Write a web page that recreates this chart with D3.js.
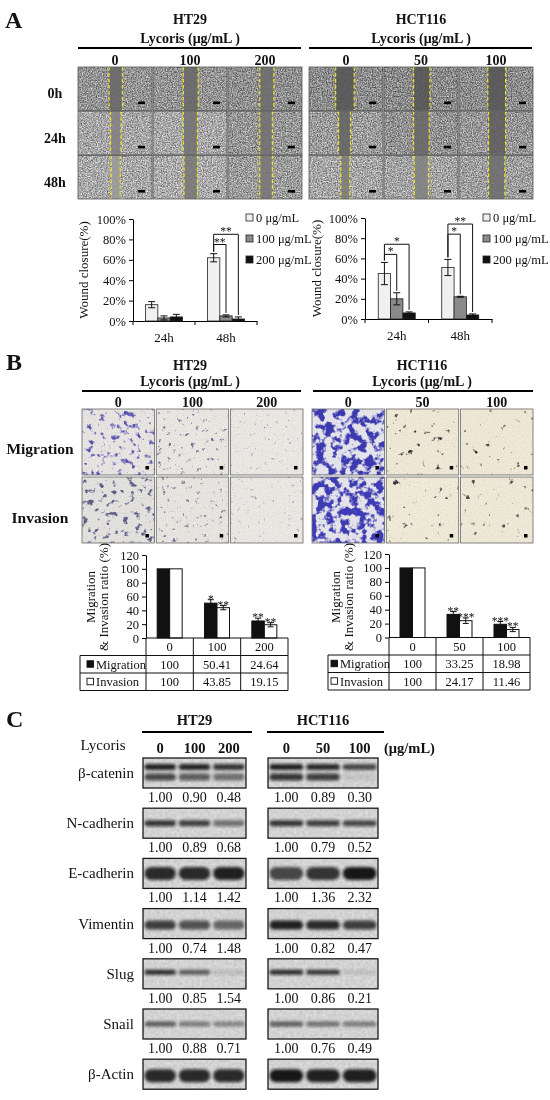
<!DOCTYPE html>
<html>
<head>
<meta charset="utf-8">
<script src="https://cdn.jsdelivr.net/npm/d3@7/dist/d3.min.js"></script>
<style>
  body { margin: 0; background: #fff; }
  svg { will-change: transform; }
  svg text { font-family: "Liberation Serif", "Times New Roman", serif; fill: #111; }
</style>
</head>
<body>
<svg id="fig" width="550" height="1100"></svg>
<script>
// ---------- values ----------
const times = ["0h", "24h", "48h"];
const ht29_doses = ["0", "100", "200"];
const hct116_doses = ["0", "50", "100"];

const wound_groups = ["24h", "48h"];
const wound_legend = ["0 μg/mL", "100 μg/mL", "200 μg/mL"];
const wound_ticks = [0, 20, 40, 60, 80, 100];
// wound closure (%), rows = 24h / 48h, cols = dose
const ht29_wound = [[16, 3, 4], [62, 5, 2]];
const ht29_wound_err = [[3, 2, 2.5], [4, 1, 2]];
const hct116_wound = [[45, 20, 6], [51, 22, 4]];
const hct116_wound_err = [[11, 6, 1], [8, 0.5, 1]];
// brackets: [group, dose vs control, bracket height %, label]
const ht29_sig = [[1, 1, 75, "**"], [1, 2, 85, "**"]];
const hct116_sig = [[0, 1, 64, "*"], [0, 2, 74, "*"], [1, 1, 84, "*"], [1, 2, 94, "**"]];

// scratch edges (fraction of picture width), rows = time, cols = dose
const ht29_gap = [[[0.42, 0.6], [0.41, 0.61], [0.43, 0.62]],
                  [[0.44, 0.58], [0.41, 0.6], [0.43, 0.6]],
                  [[0.45, 0.57], [0.42, 0.6], [0.43, 0.6]]];
const hct116_gap = [[[0.36, 0.61], [0.4, 0.62], [0.39, 0.63]],
                    [[0.4, 0.56], [0.4, 0.61], [0.4, 0.63]],
                    [[0.43, 0.55], [0.41, 0.6], [0.4, 0.62]]];

const mi_rows = ["Migration", "Invasion"];
const mi_ticks = [0, 20, 40, 60, 80, 100, 120];
const ht29_migration = [100, 50.41, 24.64];
const ht29_invasion = [100, 43.85, 19.15];
const ht29_mig_err = [0, 5, 4];
const ht29_inv_err = [0, 3, 3];
const hct116_migration = [100, 33.25, 18.98];
const hct116_invasion = [100, 24.17, 11.46];
const hct116_mig_err = [0, 4, 4];
const hct116_inv_err = [0, 4, 3];
const ht29_mig_sig = ["", "*", "**"];
const ht29_inv_sig = ["", "**", "**"];
const hct116_mig_sig = ["", "**", "***"];
const hct116_inv_sig = ["", "***", "**"];

// stained-cell coverage in transwell pictures, rows = migration / invasion
const ht29_cells = [[0.34, 0.17, 0.08], [0.32, 0.16, 0.06]];
const hct116_cells = [[0.62, 0.025, 0.02], [0.64, 0.03, 0.018]];

const proteins = ["β-catenin", "N-cadherin", "E-cadherin", "Vimentin", "Slug", "Snail", "β-Actin"];
const ht29_ratio = [[1.00, 0.90, 0.48], [1.00, 0.89, 0.68], [1.00, 1.14, 1.42],
                    [1.00, 0.74, 1.48], [1.00, 0.85, 1.54], [1.00, 0.88, 0.71]];
const hct116_ratio = [[1.00, 0.89, 0.30], [1.00, 0.79, 0.52], [1.00, 1.36, 2.32],
                      [1.00, 0.82, 0.47], [1.00, 0.86, 0.21], [1.00, 0.76, 0.49]];
// band darkness on the blots (per band, per lane)
const ht29_bands = [[[0.9, 0.88, 0.8], [0.7, 0.6, 0.5]], [[0.8, 0.75, 0.5]], [[0.85, 0.85, 0.9]],
                    [[0.75, 0.65, 0.55]], [[0.85, 0.6, 0.12]], [[0.6, 0.45, 0.4]], [[0.85, 0.85, 0.85]]];
const hct116_bands = [[[0.9, 0.85, 0.7], [0.8, 0.75, 0.08]], [[0.8, 0.75, 0.7]], [[0.7, 0.8, 0.95]],
                      [[0.9, 0.85, 0.75]], [[0.85, 0.8, 0.1]], [[0.6, 0.5, 0.45]], [[0.95, 0.9, 0.9]]];

// ---------- look of the pictures ----------
const ht29_tone = [[0.66, 0.66, 0.62], [0.8, 0.82, 0.68], [0.82, 0.84, 0.72]];
const ht29_gap_tone = [[0.4, 0.4, 0.42], [0.5, 0.44, 0.44], [0.6, 0.46, 0.46]];
const hct116_tone = [[0.6, 0.58, 0.6], [0.72, 0.64, 0.68], [0.8, 0.78, 0.74]];
const hct116_gap_tone = [[0.33, 0.33, 0.33], [0.38, 0.4, 0.36], [0.48, 0.5, 0.42]];
const ht29_cell_col = [["#5c55b0", "#6e688f", "#948ea6"], ["#5e5c86", "#75738f", "#a09cae"]];
const hct116_cell_col = [["#3c3ab0", "#332e38", "#241f1f"], ["#3e3cb4", "#332e38", "#4a4a4a"]];
const ht29_well_bg = [["#eeebe8", "#f1eee9", "#f2efea"], ["#eae8e4", "#efece7", "#f2efea"]];
const hct116_well_bg = [["#ecebf2", "#f6efdb", "#f6efdb"], ["#ecebf2", "#f7f1de", "#f6f0dd"]];
const band_rows = [[[0.3, 6], [0.63, 7]], [[0.5, 6]], [[0.5, 13]], [[0.55, 9]], [[0.45, 5]], [[0.5, 5]], [[0.55, 13]]];

const svg = d3.select("#fig");
const defs = svg.append("defs");
const serif = '"Liberation Serif","Times New Roman",serif';
const gray = v => d3.rgb(v * 255, v * 255, v * 255).toString();
let uid = 0;

function text(g, x, y, s, size, weight, anchor) {
  return g.append("text").attr("x", x).attr("y", y)
    .attr("font-size", size).attr("font-weight", weight || "normal")
    .attr("text-anchor", anchor || "middle").text(s);
}

function newFilter(prefix) {
  const id = prefix + (uid++);
  const f = defs.append("filter").attr("id", id).attr("color-interpolation-filters", "sRGB")
    .attr("x", 0).attr("y", 0).attr("width", 1).attr("height", 1);
  return [id, f];
}

function noiseFilter(freq, seed, contrast, alpha) {
  const [id, f] = newFilter("nz");
  f.append("feTurbulence").attr("type", "fractalNoise").attr("baseFrequency", freq)
    .attr("numOctaves", 3).attr("seed", seed);
  const k = contrast, b = 0.5 - contrast * 0.5;
  f.append("feColorMatrix").attr("type", "matrix")
    .attr("values", `${k} 0 0 0 ${b} ${k} 0 0 0 ${b} ${k} 0 0 0 ${b} 0 0 0 0 ${alpha}`);
  return "url(#" + id + ")";
}

function cellFilter(freq, seed, cover, col, K) {
  const [id, f] = newFilter("cl");
  const c = d3.rgb(col);
  const t = 0.72 - 0.42 * cover;
  f.append("feTurbulence").attr("type", "fractalNoise").attr("baseFrequency", freq)
    .attr("numOctaves", 3).attr("seed", seed);
  f.append("feColorMatrix").attr("type", "matrix")
    .attr("values", `0 0 0 0 ${c.r / 255} 0 0 0 0 ${c.g / 255} 0 0 0 0 ${c.b / 255} ${K} 0 0 0 ${-K * t}`);
  return "url(#" + id + ")";
}

defs.append("filter").attr("id", "blur").attr("x", -0.3).attr("y", -1).attr("width", 1.6).attr("height", 3)
  .append("feGaussianBlur").attr("stdDeviation", 1.4);

function clipRect(x, y, w, h) {
  const id = "cp" + (uid++);
  defs.append("clipPath").attr("id", id).append("rect")
    .attr("x", x).attr("y", y).attr("width", w).attr("height", h);
  return "url(#" + id + ")";
}

function header(title, cx, ty, ly, lineY, x0, x1) {
  text(svg, cx, ty, title, 14, "bold");
  text(svg, cx, ly, "Lycoris (μg/mL )", 14, "bold");
  svg.append("line").attr("x1", x0).attr("x2", x1).attr("y1", lineY).attr("y2", lineY)
    .attr("stroke", "#000").attr("stroke-width", 2.2);
}

// ---------- panel letters ----------
text(svg, 5, 28, "A", 24, "bold", "start");
text(svg, 6, 370, "B", 24, "bold", "start");
text(svg, 6, 727, "C", 24, "bold", "start");

// ---------- A: scratch pictures ----------
function woundTiles(x0, x1, doses, gaps, tone, gapTone, seed0) {
  const xs = d3.scaleBand().domain(doses).range([x0, x1]).paddingInner(0.012);
  const ys = d3.scaleBand().domain(times).range([67, 199]).paddingInner(0.015);
  doses.forEach((d, c) => text(svg, xs(d) + xs.bandwidth() / 2, 65, d, 14, "bold"));
  times.forEach((t, r) => doses.forEach((d, c) => {
    const x = xs(d), y = ys(t), w = xs.bandwidth(), h = ys.bandwidth();
    const g = svg.append("g").attr("clip-path", clipRect(x, y, w, h));
    const gl = x + gaps[r][c][0] * w, gr = x + gaps[r][c][1] * w;
    g.append("rect").attr("x", x).attr("y", y).attr("width", w).attr("height", h).attr("fill", gray(tone[r][c]));
    g.append("rect").attr("x", x).attr("y", y).attr("width", w).attr("height", h)
      .attr("filter", noiseFilter(0.8, seed0 + r * 3 + c, 1.7, 0.5));
    g.append("rect").attr("x", gl).attr("y", y).attr("width", gr - gl).attr("height", h)
      .attr("fill", gray(gapTone[r][c])).attr("opacity", 0.85);
    [gl, gr].forEach(xx => g.append("line").attr("x1", xx).attr("x2", xx).attr("y1", y).attr("y2", y + h)
      .attr("stroke", "#f0e41c").attr("stroke-width", 1.2).attr("stroke-dasharray", "3.5,2.5"));
    g.append("rect").attr("x", x + w - 14).attr("y", y + h - 9).attr("width", 7).attr("height", 2.6).attr("fill", "#000");
    svg.append("rect").attr("x", x).attr("y", y).attr("width", w).attr("height", h)
      .attr("fill", "none").attr("stroke", "#555").attr("stroke-width", 0.8);
  }));
}

header("HT29", 190, 24, 43, 48, 78, 301);
header("HCT116", 421, 24, 43, 48, 309, 532);
woundTiles(78, 302, ht29_doses, ht29_gap, ht29_tone, ht29_gap_tone, 10);
woundTiles(309, 533, hct116_doses, hct116_gap, hct116_tone, hct116_gap_tone, 40);
times.forEach((t, i) => text(svg, 55, 98 + i * 44.5, t, 14, "bold"));

// ---------- A: wound closure charts ----------
function styleAxis(g, size) {
  g.attr("font-family", serif).attr("font-size", size);
  g.selectAll("path,line").attr("stroke", "#000");
  g.selectAll("text").attr("fill", "#111");
}

function woundChart(o) {
  const y = d3.scaleLinear().domain([0, 100]).range([o.y0, o.y1]);
  const x = d3.scaleBand().domain(wound_groups).range([o.x0, o.x1]);
  const xi = d3.scaleBand().domain([0, 1, 2]).range([-18.5, 18.5]);
  const fills = ["#f0f0f0", "#8a8a8a", "#111"];
  const g = svg.append("g");

  g.append("g").attr("transform", `translate(${o.x0},0)`)
    .call(d3.axisLeft(y).tickValues(wound_ticks).tickFormat(d => d + "%").tickSize(4).tickSizeOuter(0).tickPadding(3))
    .call(styleAxis, 12.5);
  g.append("g").attr("transform", `translate(0,${o.y0})`)
    .call(d3.axisBottom(x).tickSize(0).tickPadding(12)).call(styleAxis, 13);
  g.append("g").selectAll("line").data([o.x0, x(wound_groups[1]), o.x1]).join("line")
    .attr("x1", d => d).attr("x2", d => d).attr("y1", o.y0).attr("y2", o.y0 + 4).attr("stroke", "#000");

  const bars = [];
  o.vals.forEach((row, gi) => row.forEach((v, di) => bars.push({
    gi, di, v, e: o.errs[gi][di], cx: x(wound_groups[gi]) + x.bandwidth() / 2 + xi(di) + xi.bandwidth() / 2
  })));
  g.append("g").selectAll("rect").data(bars).join("rect")
    .attr("x", d => d.cx - xi.bandwidth() / 2).attr("width", xi.bandwidth())
    .attr("y", d => y(d.v)).attr("height", d => o.y0 - y(d.v))
    .attr("fill", d => fills[d.di]).attr("stroke", "#222").attr("stroke-width", 0.8);
  const eb = g.append("g").attr("stroke", "#111").attr("stroke-width", 1);
  bars.forEach(d => {
    eb.append("line").attr("x1", d.cx).attr("x2", d.cx).attr("y1", y(d.v - d.e)).attr("y2", y(d.v + d.e));
    [d.v - d.e, d.v + d.e].forEach(vv => eb.append("line").attr("x1", d.cx - 3.5).attr("x2", d.cx + 3.5)
      .attr("y1", y(vv)).attr("y2", y(vv)));
  });

  const bk = g.append("g");
  o.sig.forEach(([gi, di, hgt, lab]) => {
    const a = bars.find(b => b.gi === gi && b.di === 0), b = bars.find(b => b.gi === gi && b.di === di);
    bk.append("path").attr("fill", "none").attr("stroke", "#111").attr("stroke-width", 1)
      .attr("d", `M${a.cx},${y(a.v + a.e) - 2}V${y(hgt)}H${b.cx}V${y(b.v + b.e) - 2}`);
    text(bk, (a.cx + b.cx) / 2, y(hgt) + 1, lab, 11.5, "normal");
  });

  const lg = g.append("g");
  wound_legend.forEach((s, i) => {
    const yy = o.ly + i * 21;
    lg.append("rect").attr("x", o.lx).attr("y", yy - 4).attr("width", 7).attr("height", 7)
      .attr("fill", fills[i]).attr("stroke", "#222").attr("stroke-width", 0.8);
    text(lg, o.lx + 10, yy + 4, s, 12.5, "normal", "start");
  });

  g.append("text").attr("transform", `translate(${o.tx},${(o.y0 + o.y1) / 2}) rotate(-90)`)
    .attr("text-anchor", "middle").attr("font-size", 13).text("Wound closure(%)");
}

woundChart({ x0: 133, x1: 257, y0: 321, y1: 219, vals: ht29_wound, errs: ht29_wound_err, sig: ht29_sig,
             lx: 246, ly: 218, tx: 88 });
woundChart({ x0: 365, x1: 492, y0: 319, y1: 218, vals: hct116_wound, errs: hct116_wound_err, sig: hct116_sig,
             lx: 483, ly: 218, tx: 321 });

// ---------- B: transwell pictures ----------
function wellTiles(x0, x1, doses, cover, cols, bgs, seed0, freq, sharp) {
  const xs = d3.scaleBand().domain(doses).range([x0, x1]).paddingInner(0.025);
  const ys = d3.scaleBand().domain(mi_rows).range([409, 543]).paddingInner(0.03);
  doses.forEach(d => text(svg, xs(d) + xs.bandwidth() / 2, 407, d, 14, "bold"));
  mi_rows.forEach((m, r) => doses.forEach((d, c) => {
    const x = xs(d), y = ys(m), w = xs.bandwidth(), h = ys.bandwidth();
    const g = svg.append("g").attr("clip-path", clipRect(x, y, w, h));
    g.append("rect").attr("x", x).attr("y", y).attr("width", w).attr("height", h).attr("fill", bgs[r][c]);
    g.append("rect").attr("x", x).attr("y", y).attr("width", w).attr("height", h)
      .attr("filter", noiseFilter(0.8, seed0 + r * 3 + c, 1.4, 0.08));
    g.append("rect").attr("x", x).attr("y", y).attr("width", w).attr("height", h)
      .attr("filter", cellFilter(freq[c], seed0 + 7 + r * 3 + c, cover[r][c], cols[r][c], sharp[c]));
    g.append("rect").attr("x", x + w - 9).attr("y", y + h - 9).attr("width", 3.5).attr("height", 3.5).attr("fill", "#000");
    svg.append("rect").attr("x", x).attr("y", y).attr("width", w).attr("height", h)
      .attr("fill", "none").attr("stroke", "#666").attr("stroke-width", 0.8);
  }));
}

header("HT29", 190, 370, 386, 391, 82, 301);
header("HCT116", 422, 370, 386, 391, 313, 533);
wellTiles(82, 303, ht29_doses, ht29_cells, ht29_cell_col, ht29_well_bg, 70, [0.17, 0.21, 0.24], [6, 6, 6]);
wellTiles(312, 533, hct116_doses, hct116_cells, hct116_cell_col, hct116_well_bg, 90, [0.12, 0.14, 0.14], [7, 7, 7]);
text(svg, 40, 454, "Migration", 15.5, "bold");
text(svg, 40, 523, "Invasion", 15.5, "bold");

// ---------- B: migration / invasion charts with data table ----------
function miChart(o) {
  const y = d3.scaleLinear().domain([0, 120]).range([o.y0, o.y1]);
  const x = d3.scaleBand().domain(o.doses).range([o.x0, o.x1]);
  const xi = d3.scaleBand().domain([0, 1]).range([-12.5, 12.5]);
  const g = svg.append("g");
  g.append("g").attr("transform", `translate(${o.x0},0)`)
    .call(d3.axisLeft(y).tickValues(mi_ticks).tickSize(4).tickSizeOuter(0).tickPadding(3))
    .call(styleAxis, 12.5);

  const series = [
    { vals: o.mig, err: o.migErr, sig: o.migSig, fill: "#111" },
    { vals: o.inv, err: o.invErr, sig: o.invSig, fill: "#fff" }];
  series.forEach((s, si) => {
    const pts = s.vals.map((v, i) => ({ v, e: s.err[i], lab: s.sig[i],
      cx: x(o.doses[i]) + x.bandwidth() / 2 + xi(si) + xi.bandwidth() / 2 }));
    g.append("g").selectAll("rect").data(pts).join("rect")
      .attr("x", d => d.cx - xi.bandwidth() / 2).attr("width", xi.bandwidth())
      .attr("y", d => y(d.v)).attr("height", d => o.y0 - y(d.v))
      .attr("fill", s.fill).attr("stroke", "#111").attr("stroke-width", 1);
    pts.filter(d => d.e > 0).forEach(d => {
      g.append("line").attr("x1", d.cx).attr("x2", d.cx).attr("y1", y(d.v - d.e)).attr("y2", y(d.v + d.e)).attr("stroke", "#111");
      [d.v - d.e, d.v + d.e].forEach(vv => g.append("line").attr("x1", d.cx - 3).attr("x2", d.cx + 3)
        .attr("y1", y(vv)).attr("y2", y(vv)).attr("stroke", "#111"));
      text(g, d.cx, y(d.v + d.e) + 3, d.lab, 11.5, "normal");
    });
  });

  // data table under the axis
  const rh = 17.5, t = g.append("g").attr("stroke", "#111").attr("stroke-width", 1);
  const cols = [o.x0].concat(o.doses.map(d => x(d) + x.bandwidth()));
  t.append("line").attr("x1", o.x0).attr("x2", o.x1).attr("y1", o.y0).attr("y2", o.y0);
  [1, 2, 3].forEach(i => t.append("line").attr("x1", o.lx).attr("x2", o.x1).attr("y1", o.y0 + rh * i).attr("y2", o.y0 + rh * i));
  cols.forEach(cx => t.append("line").attr("x1", cx).attr("x2", cx).attr("y1", o.y0).attr("y2", o.y0 + rh * 3));
  t.append("line").attr("x1", o.lx).attr("x2", o.lx).attr("y1", o.y0 + rh).attr("y2", o.y0 + rh * 3);
  o.doses.forEach((d, i) => {
    const cx = x(d) + x.bandwidth() / 2;
    text(g, cx, o.y0 + rh * 0.5 + 4.5, d, 12.5);
    text(g, cx, o.y0 + rh * 1.5 + 4.5, String(o.mig[i]), 12.5);
    text(g, cx, o.y0 + rh * 2.5 + 4.5, String(o.inv[i]), 12.5);
  });
  mi_rows.forEach((m, i) => {
    const yy = o.y0 + rh * (1.5 + i);
    g.append("rect").attr("x", o.lx + o.kx).attr("y", yy - 3.5).attr("width", 6.5).attr("height", 6.5)
      .attr("fill", series[i].fill).attr("stroke", "#111").attr("stroke-width", 0.9);
    text(g, o.lx + o.kx + 9, yy + 4.5, m, 12.5, "normal", "start");
  });

  const tl = g.append("g").attr("transform", `translate(${o.tx},${o.ty}) rotate(-90)`);
  text(tl, 0, 0, "Migration", 13);
  text(tl, 0, 12.5, "& Invasion ratio (%)", 13);
}

miChart({ x0: 146, x1: 288, y0: 638, y1: 555, lx: 80, kx: 7, doses: ht29_doses,
          mig: ht29_migration, inv: ht29_invasion, migErr: ht29_mig_err, invErr: ht29_inv_err,
          migSig: ht29_mig_sig, invSig: ht29_inv_sig, tx: 95, ty: 597 });
miChart({ x0: 389, x1: 530, y0: 637.5, y1: 554, lx: 328, kx: 3, doses: hct116_doses,
          mig: hct116_migration, inv: hct116_invasion, migErr: hct116_mig_err, invErr: hct116_inv_err,
          migSig: hct116_mig_sig, invSig: hct116_inv_sig, tx: 340, ty: 597 });

// ---------- C: western blots ----------
function blotColumn(title, x0, x1, doses, bands, ratios) {
  const lanes = d3.scaleBand().domain(doses).range([x0, x1]);
  const lc = d => lanes(d) + lanes.bandwidth() / 2;
  text(svg, (x0 + x1) / 2, 725, title, 14.5, "bold");
  svg.append("line").attr("x1", x0 - 1).attr("x2", x1 + 6).attr("y1", 732).attr("y2", 732)
    .attr("stroke", "#000").attr("stroke-width", 2.2);
  doses.forEach(d => text(svg, lc(d), 753, d, 14.5, "bold"));

  proteins.forEach((p, i) => {
    const y = 758 + i * 50.2, h = 30;
    const g = svg.append("g").attr("clip-path", clipRect(x0, y, x1 - x0, h));
    g.append("rect").attr("x", x0).attr("y", y).attr("width", x1 - x0).attr("height", h).attr("fill", "#dedede");
    g.append("rect").attr("x", x0).attr("y", y).attr("width", x1 - x0).attr("height", h)
      .attr("filter", noiseFilter(0.35, 200 + i, 1.2, 0.12));
    band_rows[i].forEach(([fy, th], bi) => {
      g.append("g").selectAll("rect").data(doses).join("rect")
        .attr("x", d => lc(d) - lanes.bandwidth() / 2 + 1.5).attr("width", lanes.bandwidth() - 3)
        .attr("y", y + fy * h - th / 2).attr("height", th).attr("rx", th / 2)
        .attr("fill", "#0d0d0d").attr("opacity", (d, k) => bands[i][bi][k])
        .attr("filter", "url(#blur)");
    });
    svg.append("rect").attr("x", x0).attr("y", y).attr("width", x1 - x0).attr("height", h)
      .attr("fill", "none").attr("stroke", "#1a1a1a").attr("stroke-width", 1.3);
    if (i < ratios.length)
      ratios[i].forEach((v, k) => text(svg, lc(doses[k]), y + h + 14, v.toFixed(2), 14));
  });
}

text(svg, 103, 750, "Lycoris", 15);
proteins.forEach((p, i) => text(svg, 134, 758 + i * 50.2 + 20, p, 15, "normal", "end"));
blotColumn("HT29", 143, 246, ht29_doses, ht29_bands, ht29_ratio);
blotColumn("HCT116", 268, 378, hct116_doses, hct116_bands, hct116_ratio);
text(svg, 384, 753, "(μg/mL)", 14.5, "bold", "start");
</script>
</body>
</html>
